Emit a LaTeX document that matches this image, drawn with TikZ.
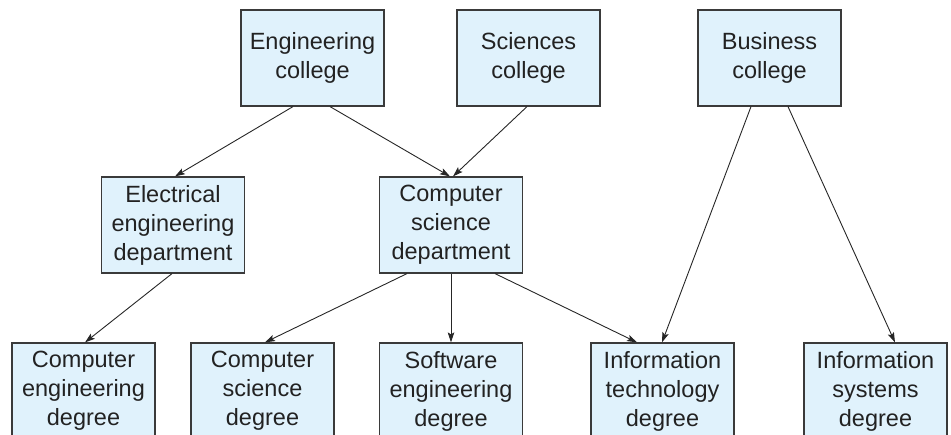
\documentclass[tikz,border=0pt]{standalone}
\usepackage{fontspec}
\setmainfont{Liberation Sans}
\usetikzlibrary{arrows.meta}
\definecolor{boxfill}{HTML}{E0F2FC}
\definecolor{boxline}{HTML}{3A3A3A}
\definecolor{txt}{HTML}{222222}
\tikzset{
  unitbox/.style={draw=boxline, line width=1.2pt, fill=boxfill, minimum width=143pt,
    minimum height=96pt, inner sep=0pt, align=center, text=txt,
    font=\fontsize{23.5}{29}\selectfont},
  link/.style={draw=black!85, line width=0.9pt, -{Stealth[length=10pt,width=6.5pt,inset=2pt]}}
}
\begin{document}
\begin{tikzpicture}[x=1pt,y=-1pt]
\useasboundingbox (0,0) rectangle (951,435);
\clip (0,0) rectangle (951,435);
\node[unitbox] (eng) at (312.5,58) {Engineering\\college};
\node[unitbox] (sci) at (528.5,58) {Sciences\\college};
\node[unitbox] (bus) at (769.5,58) {Business\\college};
\node[unitbox] (ee) at (173,225) {Electrical\\engineering\\department};
\node[unitbox] (csd) at (451,225) {Computer\\science\\department};
\node[unitbox] (ced) at (83.5,391) {Computer\\engineering\\degree};
\node[unitbox] (csdeg) at (262.5,391) {Computer\\science\\degree};
\node[unitbox] (sed) at (451,391) {Software\\engineering\\degree};
\node[unitbox] (itd) at (662.5,391) {Information\\technology\\degree};
\node[unitbox] (isd) at (875.5,391) {Information\\systems\\degree};
\draw[link] ([xshift=-19.5pt]eng.south) -- ([xshift=2pt]ee.north);
\draw[link] ([xshift=17.5pt]eng.south) -- ([xshift=-1pt]csd.north);
\draw[link] ([xshift=-1.5pt]sci.south) -- ([xshift=2pt]csd.north);
\draw[link] ([xshift=-1pt]ee.south) -- ([xshift=1.5pt]ced.north);
\draw[link] ([xshift=-44pt]csd.south) -- ([xshift=2.5pt]csdeg.north);
\draw[link] (csd.south) -- (sed.north);
\draw[link] ([xshift=44pt]csd.south) -- ([xshift=-25.5pt]itd.north);
\draw[link] ([xshift=-18.5pt]bus.south) -- ([xshift=-0.5pt]itd.north);
\draw[link] ([xshift=18.5pt]bus.south) -- ([xshift=19.5pt]isd.north);
\end{tikzpicture}
\end{document}
